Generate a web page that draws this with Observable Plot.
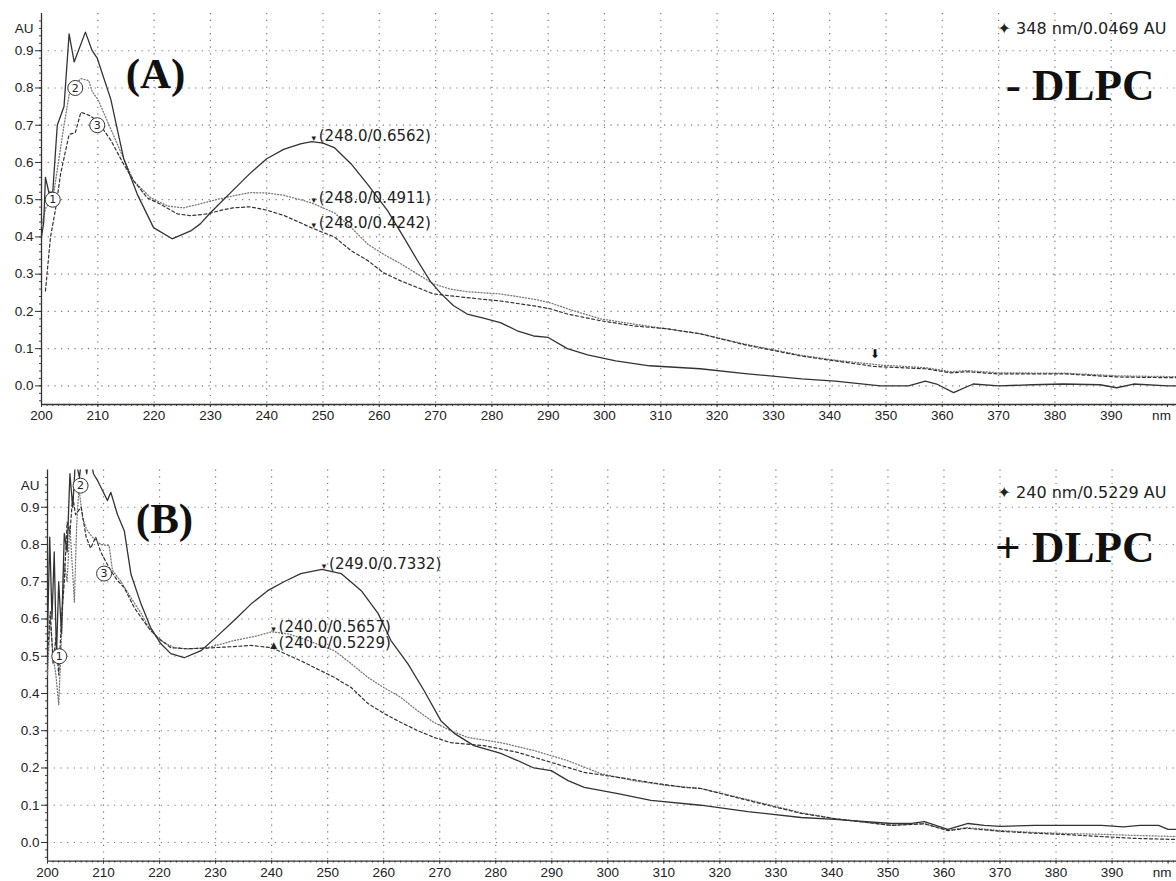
<!DOCTYPE html>
<html><head><meta charset="utf-8">
<script src="https://cdn.jsdelivr.net/npm/d3@7"></script>
<script src="https://cdn.jsdelivr.net/npm/@observablehq/plot@0.6"></script>
<style>
body{margin:0;background:#fff;}
#chart svg{display:block;}
</style></head><body><div id="chart"></div>
<script>
// ---------- tick values ----------
const xTicks = [200,210,220,230,240,250,260,270,280,290,300,310,320,330,340,350,360,370,380,390];
const xUnitTick = 400;          // position of the "nm" unit label
const yTicks = [0.0,0.1,0.2,0.3,0.4,0.5,0.6,0.7,0.8,0.9];

// ---------- Panel A (- DLPC) : [nm, AU] ----------
const aSolid = [[200,0.40],[200.4,0.44],[200.7,0.56],[201.3,0.52],[202,0.52],[202.8,0.70],[204,0.75],[204.9,0.945],[205.8,0.87],[207.8,0.95],[209,0.90],[209.9,0.88],[212.3,0.77],[214.6,0.61],[217,0.515],[219.9,0.425],[223.2,0.395],[226.5,0.416],[228.2,0.435],[230,0.465],[234,0.525],[237,0.57],[240,0.61],[243,0.635],[246,0.65],[248,0.6562],[250,0.652],[252,0.64],[255,0.596],[258,0.54],[261.5,0.47],[264.3,0.40],[266.8,0.336],[269.1,0.28],[271,0.247],[273.2,0.215],[275.6,0.193],[278.5,0.182],[281.5,0.17],[284.5,0.148],[287.4,0.134],[290,0.13],[293.4,0.10],[297,0.083],[302,0.067],[308,0.054],[317,0.046],[325,0.033],[335,0.019],[341,0.013],[349,0.0],[354,0.0],[357,0.013],[359,0.005],[362,-0.018],[365.5,0.005],[370,0.0],[376,0.003],[381.5,0.005],[388,0.003],[391,-0.005],[394,0.005],[400,0.0],[401.6,0.0]];
const aDotted = [[200,0.43],[200.8,0.48],[202,0.50],[203,0.60],[204,0.70],[205,0.79],[206,0.81],[207,0.825],[208.4,0.82],[209,0.79],[210,0.77],[212.3,0.69],[214.6,0.61],[216.4,0.55],[219.4,0.505],[222.4,0.483],[225.2,0.478],[228.2,0.489],[231,0.50],[234,0.51],[237,0.519],[240,0.518],[243,0.512],[246,0.50],[248,0.4911],[252,0.465],[255,0.425],[258,0.38],[260.7,0.354],[263.8,0.328],[266.8,0.30],[269.6,0.274],[272.6,0.26],[275.6,0.253],[281.5,0.247],[287.4,0.233],[290.4,0.223],[293.4,0.207],[299.3,0.18],[305.2,0.166],[311.2,0.153],[317,0.14],[325,0.112],[335,0.082],[341,0.069],[349,0.056],[357,0.049],[361.5,0.038],[364.5,0.041],[370,0.035],[382,0.034],[391,0.027],[400,0.025],[401.6,0.025]];
const aDashed = [[200.7,0.255],[201.6,0.40],[202.5,0.475],[203.4,0.57],[204.9,0.675],[206,0.68],[207,0.735],[208.7,0.725],[210,0.71],[212.3,0.66],[214.6,0.595],[216.4,0.55],[218.8,0.505],[221.1,0.488],[224.1,0.462],[226.5,0.457],[229.5,0.462],[232,0.472],[234,0.478],[237,0.481],[240,0.472],[243,0.458],[246,0.438],[248,0.4242],[252,0.40],[255,0.363],[258,0.336],[260.7,0.304],[263.8,0.282],[266.8,0.264],[269.6,0.247],[275.6,0.237],[281.5,0.228],[287.4,0.215],[290.4,0.207],[293.4,0.193],[299.3,0.175],[305.2,0.161],[311.2,0.153],[317,0.14],[325,0.11],[335,0.08],[341,0.067],[348,0.052],[357,0.046],[361.5,0.035],[364.5,0.038],[370,0.032],[382,0.032],[391,0.024],[400,0.022],[401.6,0.022]];
const aPeaks = [
  {nm:248, au:0.6562, label:"(248.0/0.6562)", mark:"▾"},
  {nm:248, au:0.4911, label:"(248.0/0.4911)", mark:"▾"},
  {nm:248, au:0.4242, label:"(248.0/0.4242)", mark:"▾"}
];
const aCircles = [{nm:202.0, au:0.50, n:"1"},{nm:206.0, au:0.80, n:"2"},{nm:209.9, au:0.70, n:"3"}];
const aCursor = {nm:348, au:0.0469, glyph:"⬇", text:"✦ 348 nm/0.0469 AU"};
const aPanel = {label:"(A)", cond:"- DLPC"};

// ---------- Panel B (+ DLPC) : [nm, AU] ----------
const bSolid = [[200,0.56],[200.4,0.82],[200.8,0.60],[201.2,0.78],[201.6,0.50],[202,0.70],[202.5,0.56],[203,0.83],[203.5,0.78],[204,0.99],[204.5,0.90],[205,1.03],[205.7,0.98],[206.3,1.06],[207,0.99],[207.5,1.05],[208.2,0.99],[209,0.97],[210.7,0.918],[211.3,0.94],[212.5,0.88],[213.7,0.837],[214.9,0.72],[216.7,0.64],[218.4,0.577],[220.2,0.534],[222,0.507],[224.4,0.496],[227.4,0.515],[230,0.55],[233.3,0.596],[236.3,0.64],[239.3,0.676],[242.2,0.70],[245.2,0.722],[249,0.7332],[252.4,0.722],[256,0.676],[259,0.615],[261.3,0.542],[264.3,0.48],[267.2,0.408],[270.2,0.327],[272.6,0.293],[276.1,0.26],[280.9,0.239],[283.9,0.22],[286.8,0.2],[289.9,0.193],[292.9,0.166],[295.8,0.148],[301.8,0.131],[307.7,0.113],[316.6,0.10],[325,0.083],[334.5,0.067],[340.5,0.062],[350.6,0.051],[354.2,0.051],[356.5,0.056],[360.7,0.035],[364.3,0.051],[367.2,0.046],[370,0.043],[376.2,0.046],[382.2,0.046],[388.1,0.046],[392,0.042],[395,0.046],[398.3,0.046],[400,0.035],[401.5,0.035]];
const bDotted = [[200,0.45],[200.5,0.60],[201,0.50],[201.5,0.45],[202,0.37],[202.5,0.55],[203,0.75],[203.5,0.70],[204,0.85],[204.8,0.645],[205.2,0.85],[205.6,0.95],[206.3,0.87],[207,0.84],[208,0.82],[209.5,0.80],[211,0.797],[211.6,0.73],[213,0.703],[214.9,0.657],[216.7,0.615],[218.4,0.569],[220.2,0.542],[222.6,0.523],[225,0.52],[228.6,0.523],[233.3,0.542],[237.5,0.555],[240,0.5657],[243,0.56],[246,0.545],[251.2,0.515],[254.2,0.48],[257.2,0.443],[260,0.416],[263,0.39],[266,0.354],[269,0.322],[272,0.30],[275,0.282],[280.9,0.268],[286.8,0.247],[292.8,0.22],[298.7,0.185],[304.6,0.166],[310.6,0.153],[316.6,0.145],[325,0.115],[334.5,0.08],[340.5,0.064],[350.6,0.046],[356.5,0.051],[360.7,0.032],[364,0.04],[370,0.032],[376,0.027],[382,0.024],[388,0.022],[394,0.019],[401.5,0.016]];
const bDashed = [[200,0.50],[200.5,0.62],[201,0.48],[201.5,0.55],[202,0.45],[202.5,0.60],[203,0.70],[203.5,0.86],[204,0.83],[204.5,0.93],[205,0.88],[206,0.90],[206.9,0.82],[207.7,0.79],[208.6,0.82],[209.5,0.78],[210.2,0.76],[211.3,0.73],[212.5,0.703],[213.7,0.684],[215.5,0.63],[218,0.577],[219.7,0.55],[222,0.523],[225,0.52],[228.6,0.522],[233.3,0.526],[236.3,0.529],[240,0.5229],[245.2,0.488],[251.2,0.443],[254.2,0.416],[257.2,0.373],[260.1,0.346],[263.1,0.322],[266.1,0.30],[269,0.282],[272,0.268],[277.9,0.26],[283.9,0.242],[289.9,0.215],[295.8,0.188],[301.8,0.175],[307.7,0.161],[313.6,0.148],[316.6,0.145],[325,0.113],[334.5,0.078],[340.5,0.064],[350.6,0.046],[356.5,0.05],[360.7,0.032],[364,0.038],[370,0.03],[376,0.025],[382,0.021],[388,0.016],[394,0.011],[401.5,0.008]];
const bPeaks = [
  {nm:249, au:0.7332, label:"(249.0/0.7332)", mark:"▾"},
  {nm:240, au:0.5657, label:"(240.0/0.5657)", mark:"▾"},
  {nm:240, au:0.5229, label:"(240.0/0.5229)", mark:"▲"}
];
const bCircles = [{nm:202.1, au:0.50, n:"1"},{nm:205.9, au:0.958, n:"2"},{nm:210.1, au:0.722, n:"3"}];
const bCursor = {text:"✦ 240 nm/0.5229 AU"};
const bPanel = {label:"(B)", cond:"+ DLPC"};

// ---------- drawing ----------
const rows = arr => arr.map(([nm, au]) => ({nm, au}));
const minorX = d3.range(200, 402, 1);
const minorY = d3.range(-4, 100, 2).map(v => v / 100);

function panel(cfg) {
  const dotGrid = {stroke: "#777", strokeOpacity: 1, strokeWidth: 1.2, strokeDasharray: "1.2,5.5"};
  const tickFont = {fontFamily: "Liberation Sans", fontSize: 13.5, fill: "#222"};
  const marks = [
    Plot.gridX(xTicks.slice(1), dotGrid),
    Plot.gridY(yTicks, dotGrid),
    Plot.axisX(minorX, {tickSize: 2, tickFormat: () => "", label: null, stroke: "#444"}),
    Plot.axisX(xTicks.concat([xUnitTick]), {tickSize: 3, tickPadding: 3, tickFormat: d => d === xUnitTick ? "" : String(d), label: null, stroke: "#333", ...tickFont}),
    Plot.axisX([xUnitTick], {tickSize: 0, tickPadding: 6, tickFormat: () => "nm", dx: -6, label: null, ...tickFont}),
    Plot.axisY(minorY, {tickSize: 2, tickFormat: () => "", label: null, stroke: "#444"}),
    Plot.axisY(yTicks, {tickSize: 6, tickPadding: 2, tickFormat: ".1f", label: null, stroke: "#333", ...tickFont}),
    Plot.ruleX([200], {stroke: "#333", strokeWidth: 1.3}),
    Plot.ruleY([-0.05], {stroke: "#333", strokeWidth: 1.3}),
    Plot.text(["AU"], {frameAnchor: "top-left", dx: -8, dy: 10, textAnchor: "end", ...tickFont}),
    Plot.line(rows(cfg.dotted), {x: "nm", y: "au", stroke: "#777", strokeWidth: 1.3, strokeDasharray: "1,2", clip: true}),
    Plot.line(rows(cfg.dashed), {x: "nm", y: "au", stroke: "#333", strokeWidth: 1.2, strokeDasharray: "3,2.5", clip: true}),
    Plot.line(rows(cfg.solid), {x: "nm", y: "au", stroke: "#333", strokeWidth: 1.3, clip: true}),
    Plot.text(cfg.peaks, {x: "nm", y: "au", text: "mark", dx: 2, dy: -3, fontSize: 9, fill: "#222"}),
    Plot.text(cfg.peaks, {x: "nm", y: "au", text: "label", textAnchor: "start", dx: 7, dy: -5, fontSize: 15, fill: "#222"}),
    Plot.dot(cfg.circles, {x: "nm", y: "au", r: 7.5, fill: "white", stroke: "#333", strokeWidth: 1}),
    Plot.text(cfg.circles, {x: "nm", y: "au", text: "n", fontSize: 11, fill: "#222"}),
    Plot.text([cfg.cursor.text], {frameAnchor: "top-right", dx: -10, dy: cfg.cursorDy, textAnchor: "end", fontSize: 16, fill: "#222"}),
    Plot.text([cfg.panel.label], {frameAnchor: "top-left", dx: cfg.labelDx, dy: cfg.labelDy, textAnchor: "middle", fontFamily: "Liberation Serif", fontWeight: "bold", fontSize: 43, fill: "#111"}),
    Plot.text([cfg.panel.cond], {frameAnchor: "top-right", dx: -22, dy: cfg.condDy, textAnchor: "end", fontFamily: "Liberation Serif", fontWeight: "bold", fontSize: 45, fill: "#111"})
  ];
  if (cfg.cursor.glyph) {
    marks.push(Plot.text([cfg.cursor], {x: "nm", y: "au", text: "glyph", dy: -14, fontSize: 12, fill: "#111"}));
  }
  return Plot.plot({
    width: 1176,
    height: cfg.height,
    marginTop: cfg.marginTop,
    marginBottom: cfg.marginBottom,
    marginLeft: cfg.marginLeft,
    marginRight: 0,
    x: {domain: [200, cfg.xMax], label: null},
    y: {domain: [-0.05, 1.0], label: null},
    style: {fontFamily: "DejaVu Sans", background: "#fff", color: "#222", overflow: "visible"},
    marks
  });
}

const chart = document.getElementById("chart");
chart.append(panel({
  solid: aSolid, dotted: aDotted, dashed: aDashed, peaks: aPeaks, circles: aCircles,
  cursor: aCursor, panel: aPanel,
  height: 430, marginTop: 13, marginBottom: 26, marginLeft: 41, xMax: 401.6,
  cursorDy: 9, labelDx: 114, labelDy: 44, condDy: 55
}));
chart.append(panel({
  solid: bSolid, dotted: bDotted, dashed: bDashed, peaks: bPeaks, circles: bCircles,
  cursor: bCursor, panel: bPanel,
  height: 451, marginTop: 39.5, marginBottom: 20.4, marginLeft: 47, xMax: 401.5,
  cursorDy: 17, labelDx: 117, labelDy: 32, condDy: 60
}));
</script></body></html>
